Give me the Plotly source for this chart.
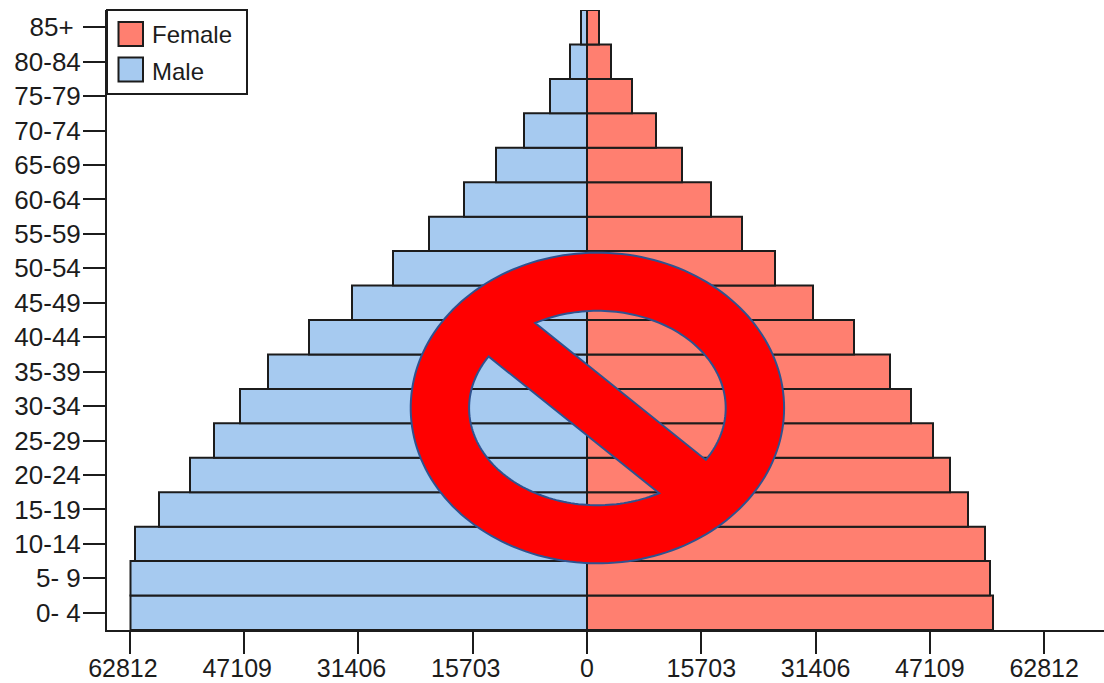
import numpy as np
import plotly.graph_objects as go

age_groups = ["0- 4", "5- 9", "10-14", "15-19", "20-24", "25-29", "30-34", "35-39", "40-44",
              "45-49", "50-54", "55-59", "60-64", "65-69", "70-74", "75-79", "80-84", "85+"]
age_tick_labels = age_groups[:-1] + ["85+\u00a0"]
male = [62723, 62723, 62105, 58807, 54548, 51250, 47678, 43831, 38197,
        32289, 26656, 21709, 16900, 12503, 8656, 5084, 2336, 824]
female = [55784, 55372, 54685, 52349, 49876, 47540, 44518, 41632, 36686,
          31052, 25831, 21297, 17038, 13053, 9481, 6183, 3298, 1649]
x_ticks = [-62812, -47109, -31406, -15703, 0, 15703, 31406, 47109, 62812]
x_tick_labels = ["62812\u00a0\u00a0", "47109\u00a0\u00a0", "31406\u00a0\u00a0", "15703\u00a0\u00a0", "0",
                 "15703", "31406", "47109", "62812"]

MALE_C, FEMALE_C = "#A6CAF0", "#FF7F70"
INK = "#1c1c1c"
FONT = "Liberation Sans"

L, R, T, B = 107, 1104, 10, 630
def fx(p): return (np.asarray(p, float) - L) / (R - L)
def fy(p): return (B - np.asarray(p, float)) / (B - T)

def path(points, close=True):
    s = "M" + " L".join(f"{fx(x):.5f},{fy(y):.5f}" for x, y in points)
    return s + (" Z" if close else "")

def ellipse_arc(cx, cy, rx, ry, a0, a1, n=90):
    t = np.linspace(a0, a1, n)
    return list(zip(cx + rx * np.cos(t), cy + ry * np.sin(t)))

def angle(cx, cy, rx, ry, x, y):
    return np.arctan2((y - cy) / ry, (x - cx) / rx)

# no-entry sign overlay (decoration, in picture coordinates)
cx, cy = 597.4, 408.0
outer = ellipse_arc(cx, cy, 186.7, 155.3, 0, 2 * np.pi, 180)
irx, iry = 128.3, 97.2
a_tl = angle(cx, cy, irx, iry, 535, 322.7)
a_br = angle(cx, cy, irx, iry, 706, 460)
upper = ellipse_arc(cx, cy, irx, iry, a_tl, a_br)
b_tl = angle(cx, cy, irx, iry, 489, 356.7)
b_br = angle(cx, cy, irx, iry, 659.3, 493.3)
if b_tl < 0:
    b_tl += 2 * np.pi
lower = ellipse_arc(cx, cy, irx, iry, b_tl, b_br)
sign = path(outer) + " " + path(upper) + " " + path(lower)

shapes = [
    dict(type="path", xref="paper", yref="paper", path=sign, fillcolor="#FF0000",
         fillrule="evenodd", line=dict(color="#2F528F", width=2)),
    dict(type="rect", xref="paper", yref="paper", x0=fx(107), x1=fx(247), y0=fy(94), y1=fy(10),
         fillcolor="white", line=dict(color=INK, width=2)),
    dict(type="rect", xref="paper", yref="paper", x0=fx(118.5), x1=fx(143), y0=fy(46), y1=fy(22),
         fillcolor=FEMALE_C, line=dict(color=INK, width=2)),
    dict(type="rect", xref="paper", yref="paper", x0=fx(118.5), x1=fx(143), y0=fy(81.5), y1=fy(57.5),
         fillcolor=MALE_C, line=dict(color=INK, width=2)),
]
annotations = [
    dict(text=name, xref="paper", yref="paper", x=fx(150), y=fy(py), xanchor="left", yanchor="middle",
         showarrow=False, font=dict(family=FONT, size=24, color=INK))
    for name, py in (("Female", 35), ("Male", 71))
]

fig = go.Figure()
bar_line = dict(color=INK, width=2)
fig.add_bar(y=age_groups, x=[-v for v in male], name="Male", orientation="h", width=1,
            marker=dict(color=MALE_C, line=bar_line))
fig.add_bar(y=age_groups, x=female, name="Female", orientation="h", width=1,
            marker=dict(color=FEMALE_C, line=bar_line))

fig.update_layout(
    width=1104, height=683, barmode="relative", showlegend=False,
    paper_bgcolor="white", plot_bgcolor="white",
    margin=dict(l=L, r=1104 - R, t=T, b=683 - B, pad=0, autoexpand=False),
    font=dict(family=FONT, size=25, color=INK),
    shapes=shapes, annotations=annotations,
)
fig.update_xaxes(range=[-65952, 71036], tickmode="array", tickvals=x_ticks, ticktext=x_tick_labels,
                 showgrid=False, zeroline=False, showline=True, linecolor=INK, linewidth=2,
                 ticks="outside", ticklen=22, tickwidth=2, tickcolor=INK, tickangle=0,
                 tickfont=dict(family=FONT, size=25, color=INK),
                 automargin=False, ticklabelstandoff=-7)
fig.update_yaxes(type="category", categoryorder="array", categoryarray=age_groups, range=[-0.5, 17.5],
                 tickmode="array", tickvals=age_groups, ticktext=age_tick_labels,
                 tickfont=dict(family=FONT, size=26, color=INK),
                 showgrid=False, zeroline=False, showline=True, linecolor=INK, linewidth=2,
                 ticks="outside", ticklen=22, tickwidth=2, tickcolor=INK,
                 automargin=False, ticklabelstandoff=-3)

fig.write_html("out.html", post_script="document.body.style.margin='0';",
               config={"displayModeBar": False})
